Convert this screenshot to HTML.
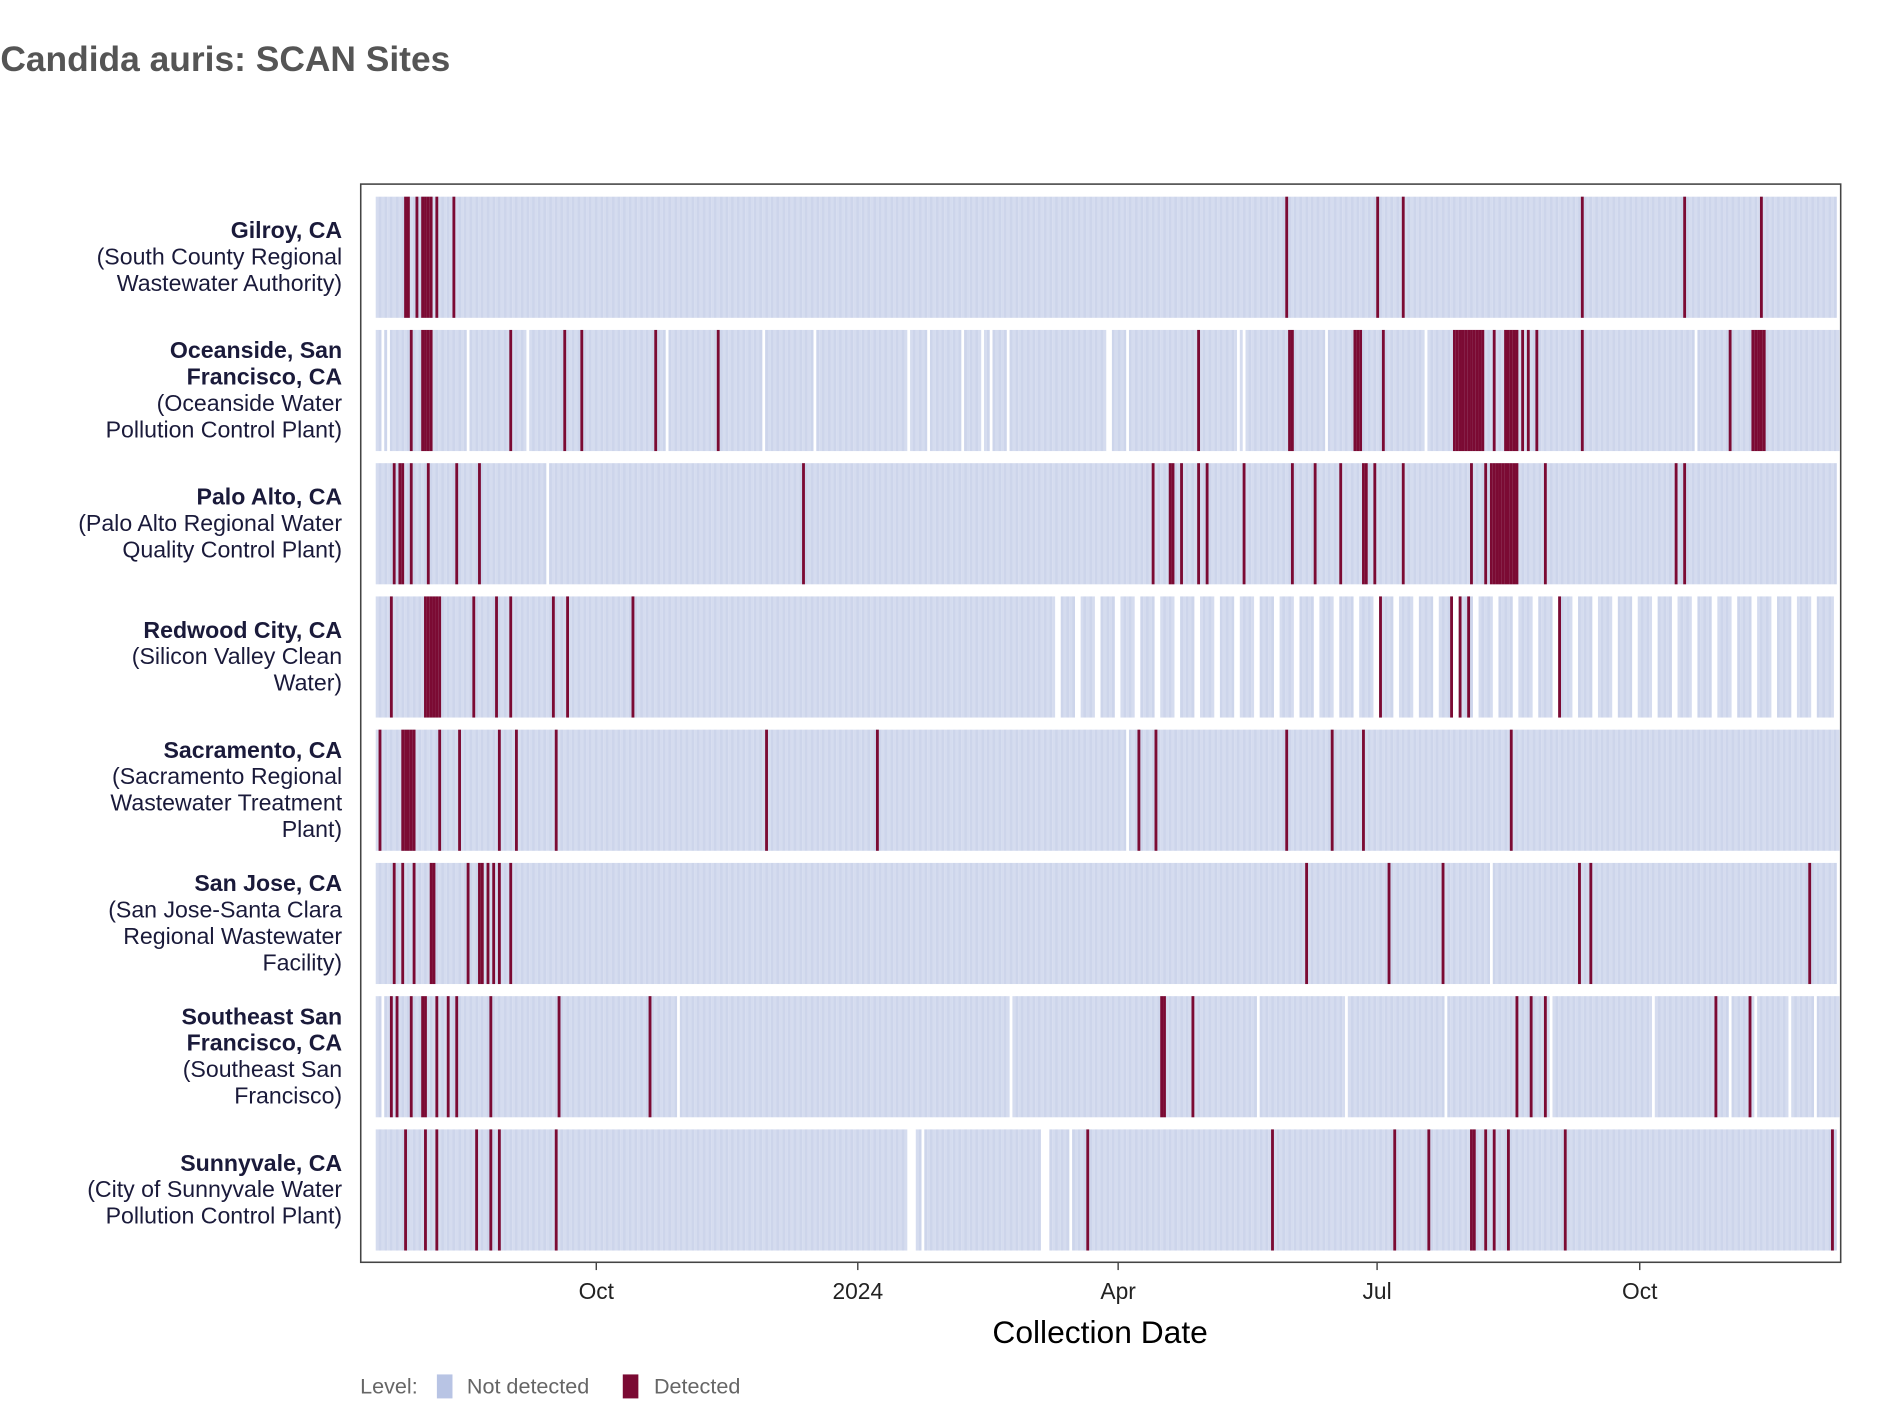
<!DOCTYPE html>
<html><head><meta charset="utf-8"><style>
html,body{margin:0;padding:0;background:#fff;}
svg{display:block;font-family:"Liberation Sans",sans-serif;}
</style></head><body>
<svg id="chart" width="1880" height="1414" viewBox="0 0 1567 1179" xmlns="http://www.w3.org/2000/svg">
<text x="0" y="59" font-size="29.5" font-weight="bold" fill="#555">Candida auris: SCAN Sites</text>
<g id="rows"></g>
<rect x="300.5" y="153.5" width="1234" height="899" fill="none" stroke="#444" stroke-width="1.3"/>
<g id="ylabels"></g>
<g id="xaxis"></g>
<text x="917" y="1120" font-size="26.5" text-anchor="middle" fill="#000">Collection Date</text>
<g font-size="18" fill="#666">
<text x="300" y="1162">Level:</text>
<rect x="364" y="1146" width="13" height="20" fill="#b8c4e4"/>
<text x="389" y="1162">Not detected</text>
<rect x="519" y="1146" width="13" height="20" fill="#7b0a33"/>
<text x="545" y="1162">Detected</text>
</g>
</svg>
<script>
// Day offsets from 2023-07-16
const sites = ["Gilroy","Oceanside","PaloAlto","RedwoodCity","Sacramento","SanJose","SoutheastSF","Sunnyvale"];
const siteLabelBold = [["Gilroy, CA"],["Oceanside, San","Francisco, CA"],["Palo Alto, CA"],["Redwood City, CA"],["Sacramento, CA"],["San Jose, CA"],["Southeast San","Francisco, CA"],["Sunnyvale, CA"]];
const siteLabelPlain = [["(South County Regional","Wastewater Authority)"],["(Oceanside Water","Pollution Control Plant)"],["(Palo Alto Regional Water","Quality Control Plant)"],["(Silicon Valley Clean","Water)"],["(Sacramento Regional","Wastewater Treatment","Plant)"],["(San Jose-Santa Clara","Regional Wastewater","Facility)"],["(Southeast San","Francisco)"],["(City of Sunnyvale Water","Pollution Control Plant)"]];
const coverageStart = [0,0,0,0,0,0,0,0];
const coverageEnd = [513,514,513,512,514,513,514,513];
const detGilroy = [10,11,14,16,17,18,19,21,27,320,352,361,424,460,487];
const detOceanside = [12,16,17,18,19,47,66,72,98,120,289,321,322,344,345,346,354,379,380,381,382,383,384,385,386,387,388,389,393,397,398,399,400,401,403,405,408,424,476,484,485,486,487,488];
const detPaloAlto = [6,8,9,12,18,28,36,150,273,279,280,283,289,292,305,322,330,339,347,348,351,361,385,390,392,393,394,395,396,397,398,399,400,401,411,457,460];
const detRedwood = [5,17,18,19,20,21,22,34,42,47,62,67,90,353,378,381,384,416];
const detSacramento = [1,9,10,11,12,13,22,29,43,49,63,137,176,268,274,320,336,347,399];
const detSanJose = [6,9,13,19,20,32,36,37,39,41,43,47,327,356,375,423,427,504];
const detSESF = [5,7,12,16,17,21,25,28,40,64,96,276,277,287,401,406,411,471,483];
const detSunnyvale = [10,17,21,35,40,43,63,250,315,358,370,385,386,390,393,398,418,512];
const gapGilroy = [];
const gapOceanside = [2,4,32,53,102,136,154,187,194,206,213,216,222,257,258,264,303,305,334,369,464];
const gapPaloAlto = [60];
const gapRedwood = [239,240,246,247,253,254,260,261,267,268,274,275,281,282,288,289,295,296,302,303,309,310,316,317,323,324,330,331,337,338,344,345,351,352,358,359,365,366,372,373,379,380,386,387,393,394,400,401,407,408,414,415,421,422,428,429,435,436,442,443,449,450,456,457,463,464,470,471,477,478,484,485,491,492,498,499,505,506];
const gapSacramento = [264];
const gapSanJose = [392];
const gapSESF = [2,106,223,310,341,376,413,449,476,485,497,506];
const gapSunnyvale = [187,188,189,192,234,235,236,244];
const detections = [detGilroy,detOceanside,detPaloAlto,detRedwood,detSacramento,detSanJose,detSESF,detSunnyvale];
const gaps = [gapGilroy,gapOceanside,gapPaloAlto,gapRedwood,gapSacramento,gapSanJose,gapSESF,gapSunnyvale];
const tickDays = [77.6,169.6,261.2,352.3,444.7];
const tickLabels = ["Oct","2024","Apr","Jul","Oct"];

const NS="http://www.w3.org/2000/svg";
const X0=313, PXD=2.37, ROW0=164, ROWSTEP=111.1, ROWH=101;
function xs(d){return X0+d*PXD;}
function ys(i){return ROW0+i*ROWSTEP;}
function mk(tag,attrs,parent){const e=document.createElementNS(NS,tag);for(const k in attrs)e.setAttribute(k,attrs[k]);parent.appendChild(e);return e;}
const rows=document.getElementById('rows');
sites.forEach((s,i)=>{
  const g=mk('g',{},rows);
  
  
  const gs=new Set(gaps[i]);
  for(let d=coverageStart[i];d<=coverageEnd[i];d++){
    if(gs.has(d))continue;
    const r=mk('rect',{x:xs(d),y:ys(i),width:PXD+0.05,height:ROWH,fill:(d%2?'#cdd5eb':'#d5dcef')},g);
    
    
  }
  detections[i].forEach(d=>{
    const r=mk('rect',{x:xs(d),y:ys(i),width:PXD,height:ROWH,fill:'#7b0a33'},g);
    
    
  });
});
const yl=document.getElementById('ylabels');
sites.forEach((s,i)=>{
  const lines=siteLabelBold[i].map(t=>[t,true]).concat(siteLabelPlain[i].map(t=>[t,false]));
  const c=ys(i)+ROWH/2;
  const first=c-(lines.length-1)*11+6;
  lines.forEach((l,j)=>{
    const t=mk('text',{x:285,y:first+j*22,'font-size':19.3,'text-anchor':'end',fill:'#1a1a3a','font-weight':l[1]?'bold':'normal'},yl);
    t.textContent=l[0];
    
    
  });
});
const xa=document.getElementById('xaxis');
tickDays.forEach((d,i)=>{
  const l=mk('line',{x1:xs(d),x2:xs(d),y1:1053,y2:1059,stroke:'#444','stroke-width':1.2},xa);
  
  
  const t=mk('text',{x:xs(d),y:1083,'font-size':19,'text-anchor':'middle',fill:'#222'},xa);
  t.textContent=tickLabels[i];
  
  
});
</script>
</body></html>
